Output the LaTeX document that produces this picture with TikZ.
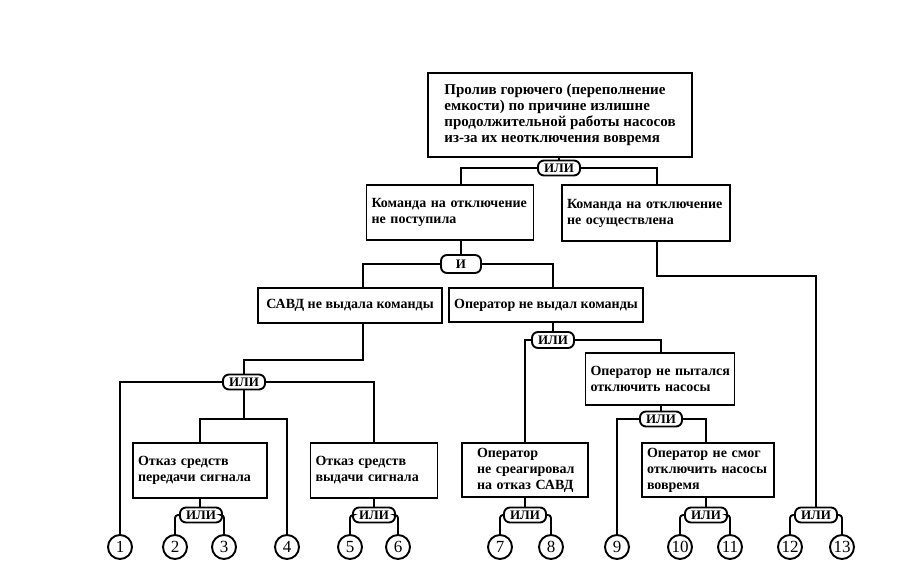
\documentclass[tikz,border=0pt]{standalone}
\usepackage{fontspec}
\setmainfont{Liberation Serif}
\newcommand{\myline}[1]{\mbox{#1}}
\begin{document}
\begin{tikzpicture}[x=1pt,y=-1pt,
  txtbox/.style={draw, line width=1.9pt, anchor=center, align=left, inner xsep=5pt, inner ysep=0pt,
    font=\fontsize{14}{16}\selectfont\bfseries},
  gate/.style={draw, line width=1.9pt, rounded corners=6pt, minimum width=42pt, minimum height=15pt,
    inner sep=0pt, font=\fontsize{13}{13}\selectfont\bfseries},
  leaf/.style={draw, circle, line width=1.9pt, minimum size=24pt, inner sep=0pt,
    font=\fontsize{17}{17}\selectfont},
  conn/.style={line width=1.9pt},
  rconn/.style={line width=1.9pt, rounded corners=3pt}]
\useasboundingbox (0,0) rectangle (898,576);

% boxes
\node[txtbox, minimum width=264pt, minimum height=84pt, font=\fontsize{15}{16}\selectfont\bfseries] (T) at (560,115)
  {Пролив горючего (переполнение\\емкости) по причине излишне\\продолжительной работы насосов\\из-за их неотключения вовремя};
\node[txtbox, text width=157pt, minimum height=55pt] (B1) at (450,212.5)
  {\myline{Команда на отключение}\\\myline{не поступила}};
\node[txtbox, text width=158pt, minimum height=56pt] (B2) at (646,213)
  {\myline{Команда на отключение}\\\myline{не осуществлена}};
\node[txtbox, minimum width=184pt, minimum height=35pt] (B3) at (350,305.5)
  {САВД не выдала команды};
\node[txtbox, minimum width=192pt, minimum height=34pt] (B4) at (546,305)
  {Оператор не выдал команды};
\node[txtbox, text width=124pt, minimum height=55pt] (B5) at (200,470.5)
  {\myline{Отказ средств}\\\myline{передачи сигнала}};
\node[txtbox, text width=117pt, minimum height=55pt] (B6) at (374,470.5)
  {\myline{Отказ средств}\\\myline{выдачи сигнала}};
\node[txtbox, text width=116pt, minimum height=54pt] (B7) at (525,470)
  {\myline{\hspace*{10pt}Оператор}\\\myline{\hspace*{10pt}не среагировал}\\\myline{\hspace*{10pt}на отказ САВД}};
\node[txtbox, text width=139pt, minimum height=52pt] (B8) at (660,379)
  {\myline{Оператор не пытался}\\\myline{отключить насосы}};
\node[txtbox, text width=122pt, minimum height=54pt] (B9) at (708,470)
  {\myline{Оператор не смог}\\\myline{отключить насосы}\\\myline{вовремя}};

% gates
\node[gate] (G1) at (559,168) {ИЛИ};
\node[gate, minimum width=40pt, minimum height=18pt] (G2) at (461,264) {И};
\node[gate] (G3) at (244,382) {ИЛИ};
\node[gate] (G4) at (201,515) {ИЛИ};
\node[gate] (G5) at (374,515) {ИЛИ};
\node[gate] (G6) at (525,515) {ИЛИ};
\node[gate] (G7) at (706,515) {ИЛИ};
\node[gate] (G8) at (816,515) {ИЛИ};
\node[gate, minimum height=16pt] (G9) at (553,340) {ИЛИ};
\node[gate] (G10) at (661,419) {ИЛИ};

% leaves
\node[leaf] (C1) at (120,547) {1};
\node[leaf] (C2) at (175,547) {2};
\node[leaf] (C3) at (224,547) {3};
\node[leaf] (C4) at (287,547) {4};
\node[leaf] (C5) at (350,547) {5};
\node[leaf] (C6) at (398,547) {6};
\node[leaf] (C7) at (500,547) {7};
\node[leaf] (C8) at (551,547) {8};
\node[leaf] (C9) at (617,547) {9};
\node[leaf] (C10) at (680,547) {10};
\node[leaf] (C11) at (730,547) {11};
\node[leaf] (C12) at (790,547) {12};
\node[leaf] (C13) at (842,547) {13};

% connectors
\draw[conn] (T.south -| G1) -- (G1.north);
\draw[conn] (G1.west) -| ([xshift=11pt]B1.north);
\draw[conn] (G1.east) -| ([xshift=11pt]B2.north);

\draw[conn] ([xshift=11pt]B1.south) -- (G2.north);
\draw[conn] (G2.west) -| ([xshift=13pt]B3.north);
\draw[conn] (G2.east) -| ([xshift=7pt]B4.north);

\draw[conn] ([xshift=11pt]B2.south) -- ++(0,34) -| (G8.north);

\draw[conn] ([xshift=13pt]B3.south) -- ++(0,36) -| (G3.north);
\draw[conn] (G3.west) -| (C1.north);
\draw[conn] (G3.east) -| (B6.north);
\draw[conn] (G3.south) -- ++(0,28.5) coordinate (J1);
\draw[conn] (J1) -| (B5.north);
\draw[conn] (J1) -| (C4.north);

\draw[conn] (B5.south) -- (G4.north -| B5.south);
\draw[rconn] (G4.west) -| (C2.north);
\draw[rconn] (G4.east) -| (C3.north);
\draw[conn] (B6.south) -- (G5.north);
\draw[rconn] (G5.west) -| (C5.north);
\draw[rconn] (G5.east) -| (C6.north);

\draw[conn] ([xshift=7pt]B4.south) -- (G9.north);
\draw[conn] (G9.west) -| (B7.north);
\draw[conn] (G9.east) -| ([xshift=1pt]B8.north);
\draw[conn] ([xshift=1pt]B8.south) -- (G10.north);
\draw[conn] (G10.west) -| (C9.north);
\draw[conn] (G10.east) -| ([xshift=-2pt]B9.north);

\draw[conn] (B7.south) -- (G6.north);
\draw[rconn] (G6.west) -| (C7.north);
\draw[rconn] (G6.east) -| (C8.north);
\draw[conn] ([xshift=-2pt]B9.south) -- (G7.north);
\draw[rconn] (G7.west) -| (C10.north);
\draw[rconn] (G7.east) -| (C11.north);
\draw[rconn] (G8.west) -| (C12.north);
\draw[rconn] (G8.east) -| (C13.north);
\end{tikzpicture}
\end{document}
